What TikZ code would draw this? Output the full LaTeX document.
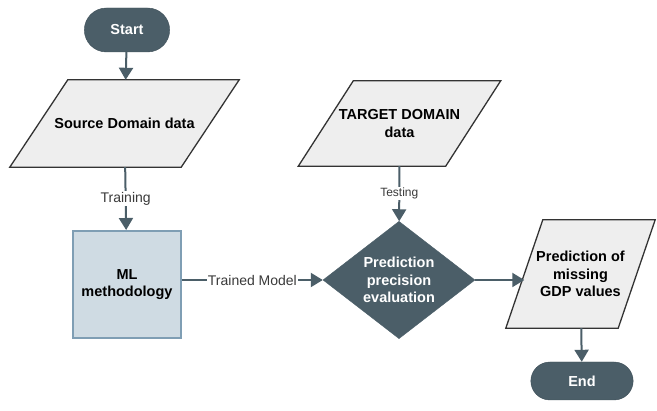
\documentclass[tikz,border=0pt]{standalone}
\usepackage{fontspec}
\setmainfont{Liberation Sans}
\usepackage{tikz}
\usetikzlibrary{shapes.geometric, shapes.misc, arrows.meta}
\usetikzlibrary{positioning, backgrounds}
\definecolor{slate}{HTML}{4B5E68}
\definecolor{slateline}{HTML}{3E4F58}
\definecolor{iofill}{HTML}{EEEEEE}
\definecolor{procfill}{HTML}{CFDBE3}
\definecolor{procline}{HTML}{7F9EB4}
\definecolor{labelgray}{HTML}{3A3A3A}
\newcommand{\boldtext}{\bfseries\fontsize{14.5}{17.5}\selectfont}
% parallelogram round an io node: #1 node, #2 half of the slant
\newcommand{\ioshape}[2]{
  \filldraw [iobox] ([xshift = #2]#1.north west) -- ([xshift = #2]#1.north east)
    -- ([xshift = -#2]#1.south east) -- ([xshift = -#2]#1.south west) -- cycle;
}
\tikzstyle{terminal} = [rounded rectangle, minimum width = 92, minimum height = 44,
  fill = slate, draw = slateline, text = white, font = \boldtext]
\tikzstyle{io} = [rectangle, align = center, inner sep = 0, font = \boldtext]
\tikzstyle{iobox} = [draw = black!80, line width = 1.3, fill = iofill]
\tikzstyle{process} = [rectangle, minimum width = 108, minimum height = 107,
  fill = procfill, draw = procline, line width = 2, align = center, font = \boldtext]
\tikzstyle{decision} = [diamond, minimum width = 152, minimum height = 116,
  fill = slate, draw = slate, text = white, align = center, inner sep = 0,
  font = \boldtext]
\tikzstyle{flow} = [draw = slate, line width = 2,
  -{Triangle[length = 12, width = 14]}]
\tikzstyle{tag} = [fill = white, text = labelgray, inner sep = 1,
  font = \fontsize{14}{16}\selectfont]

\begin{document}
\begin{tikzpicture}[node distance = 0, x = 1pt, y = 1pt]
      \useasboundingbox (0, 0) rectangle (657, -411);
      % left column
      \node [terminal] at (127, -30) (start) {Start};
      \node [io, below of = start, yshift = -93.5, xshift = -2.5,
        minimum width = 171, minimum height = 87] (source)
        {Source Domain data};
      \node [process, below of = start, yshift = -254.5] (ml)
        {ML\\methodology};
      % middle column
      \node [decision, right of = ml, xshift = 272, yshift = 4.5] (eval)
        {Prediction\\precision\\evaluation};
      \node [io, above of = eval, yshift = 156.5, xshift = 0.5,
        minimum width = 147, minimum height = 85] (target)
        {TARGET DOMAIN\\data};
      % right column
      \node [io, right of = eval, xshift = 181.5, yshift = 6,
        minimum width = 112, minimum height = 108] (result)
        {Prediction of\\missing\\GDP values};
      \node [terminal, below of = result, yshift = -107, xshift = 1.5,
        minimum width = 109, minimum height = 38] (end) {End};

      \begin{scope}[on background layer]
        \ioshape{source}{29}
        \ioshape{target}{27.5}
        \ioshape{result}{18.5}
      \end{scope}

      \draw [flow] (start) -- (source);
      \draw [flow] (source) -- node [tag] {Training} (ml);
      \draw [flow] (ml.east |- eval.west) -- node [tag] {Trained Model} (eval.west);
      \draw [flow] (target) -- node [tag, font = \fontsize{12}{14}\selectfont]
        {Testing} (eval);
      \draw [flow] (eval.east) -- (eval.east -| result.west);
      \draw [flow] (result) -- (end);
    \end{tikzpicture}
\end{document}
